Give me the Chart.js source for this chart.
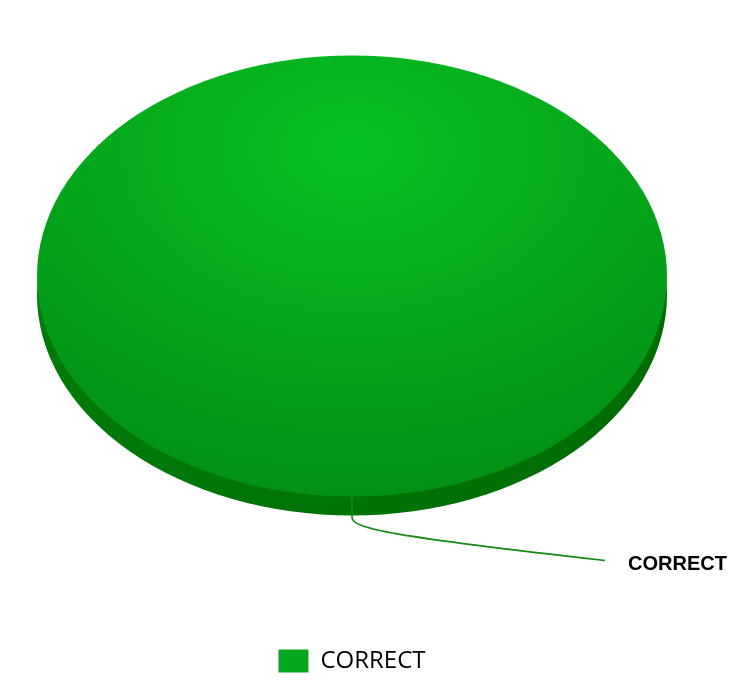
<!DOCTYPE html>
<html>
<head>
<meta charset="utf-8">
<script src="https://cdn.jsdelivr.net/npm/chart.js@4.4.1/dist/chart.umd.min.js"></script>
<style>
  html, body { margin: 0; padding: 0; background: #fff; }
  #wrap { width: 744px; height: 683px; }
</style>
</head>
<body>
<div id="wrap"><canvas id="pie"></canvas></div>
<script>
const categories = ['CORRECT'];
const values = [100];
const topColors = [['#08c222', '#05a81c', '#018a12']];
const sideColors = [['#007a0a', '#006c04']];

// fake 3d look: squash the circle and draw a darker copy below it
const TILT = 0.7;
const DEPTH = 19;
const CENTER = { x: 352, y: 276 };

function toScreen(ctx, arc) {
  ctx.translate(CENTER.x, CENTER.y);
  ctx.scale(1, TILT);
  ctx.translate(-arc.x, -arc.y);
}

function topGradient(c) {
  const a = c.chart.chartArea;
  const cols = topColors[c.dataIndex];
  if (!a) return cols[1];
  const x = (a.left + a.right) / 2;
  const y = (a.top + a.bottom) / 2 - 180;
  const g = c.chart.ctx.createRadialGradient(x, y, 0, x, y, 560);
  g.addColorStop(0, cols[0]);
  g.addColorStop(0.45, cols[1]);
  g.addColorStop(1, cols[2]);
  return g;
}

const pie3d = {
  id: 'pie3d',
  beforeDatasetsDraw(chart) {
    const ctx = chart.ctx;
    const meta = chart.getDatasetMeta(0);
    meta.data.forEach((arc, i) => {
      ctx.save();
      ctx.translate(0, DEPTH);
      toScreen(ctx, arc);
      const g = ctx.createLinearGradient(arc.x - arc.outerRadius, 0, arc.x + arc.outerRadius, 0);
      g.addColorStop(0, sideColors[i][0]);
      g.addColorStop(1, sideColors[i][1]);
      ctx.fillStyle = g;
      ctx.beginPath();
      ctx.moveTo(arc.x, arc.y);
      ctx.arc(arc.x, arc.y, arc.outerRadius, arc.startAngle, arc.endAngle);
      ctx.closePath();
      ctx.fill();
      ctx.restore();
    });
    ctx.save();
    toScreen(ctx, meta.data[0]);
  },
  afterDatasetsDraw(chart) {
    const ctx = chart.ctx;
    ctx.restore();
    const meta = chart.getDatasetMeta(0);
    meta.data.forEach((arc, i) => {
      const mid = (arc.startAngle + arc.endAngle) / 2;
      const px = CENTER.x + Math.cos(mid) * arc.outerRadius;
      const py = CENTER.y + Math.sin(mid) * arc.outerRadius * TILT;
      ctx.save();
      ctx.strokeStyle = '#128a12';
      ctx.lineWidth = 1.6;
      ctx.beginPath();
      ctx.moveTo(px, py);
      ctx.lineTo(px, py + 21);
      ctx.bezierCurveTo(px, py + 32, px + 40, py + 40, px + 253, py + 64);
      ctx.stroke();
      ctx.fillStyle = '#000';
      ctx.font = 'bold 20px "Liberation Sans", Arial, sans-serif';
      ctx.textAlign = 'left';
      ctx.textBaseline = 'middle';
      ctx.fillText(categories[i], px + 276, py + 68);
      ctx.restore();
    });
  }
};

new Chart(document.getElementById('pie'), {
  type: 'pie',
  data: {
    labels: categories,
    datasets: [{
      data: values,
      backgroundColor: topGradient,
      borderWidth: 0,
      hoverOffset: 0,
      clip: false
    }]
  },
  options: {
    responsive: true,
    maintainAspectRatio: false,
    animation: false,
    radius: 315,
    layout: { padding: { left: 0, right: 40, top: 0, bottom: 0 } },
    plugins: {
      tooltip: { enabled: false },
      legend: {
        position: 'bottom',
        labels: {
          boxWidth: 30,
          boxHeight: 23,
          padding: 9,
          color: '#333',
          font: { family: '"Open Sans", sans-serif', size: 24 },
          generateLabels: (chart) => categories.map((name, i) => ({
            text: name,
            fillStyle: topColors[i][1],
            strokeStyle: topColors[i][1],
            lineWidth: 0,
            index: i
          }))
        }
      }
    }
  },
  plugins: [pie3d]
});
</script>
</body>
</html>
